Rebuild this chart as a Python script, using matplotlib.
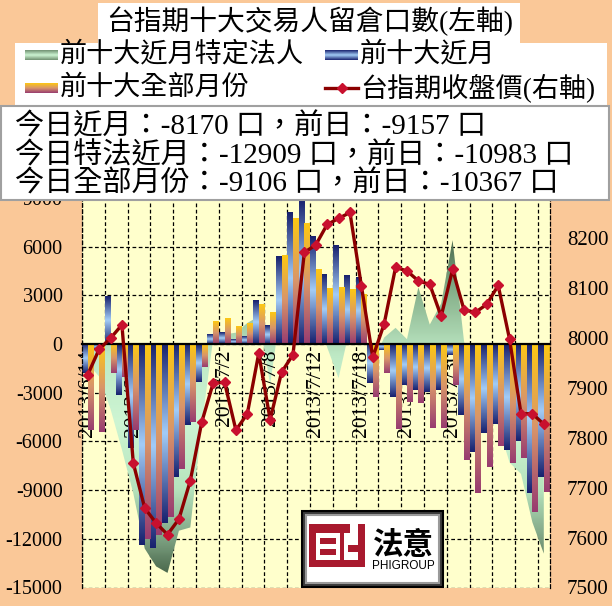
import numpy as np
import matplotlib
matplotlib.use('Agg')
import matplotlib.pyplot as plt
from matplotlib.colors import LinearSegmentedColormap
from matplotlib.patches import Rectangle

plt.rcParams['font.family'] = ['Liberation Serif', 'Noto Sans CJK TC']
plt.rcParams['axes.unicode_minus'] = False

# 交易日 (2013/6/14 ~ 2013/8/9)
dates = ['2013/6/14', '2013/6/17', '2013/6/18', '2013/6/19', '2013/6/20', '2013/6/21',
         '2013/6/24', '2013/6/25', '2013/6/26', '2013/6/27', '2013/6/28', '2013/7/1',
         '2013/7/2', '2013/7/3', '2013/7/4', '2013/7/5', '2013/7/8', '2013/7/9',
         '2013/7/10', '2013/7/11', '2013/7/12', '2013/7/15', '2013/7/16', '2013/7/17',
         '2013/7/18', '2013/7/19', '2013/7/22', '2013/7/23', '2013/7/24', '2013/7/25',
         '2013/7/26', '2013/7/29', '2013/7/30', '2013/7/31', '2013/8/1', '2013/8/2',
         '2013/8/5', '2013/8/6', '2013/8/7', '2013/8/8', '2013/8/9']

# 前十大近月特定法人 (面積)
specific = [-1200, -2000, -4000, -6500, -9200, -12600, -13700, -14100, -11500, -11300,
            -5000, 300, 600, 700, 1300, 1700, -2500, 2500, 5000, 6000,
            3000, -200, -2100, 1000, 1500, -1200, 400, 1000, 300, 3500,
            1200, 2500, 6400, 200, -3500, -4500, -5000, -7300, -8000, -10983,
            -12909]
# 前十大近月
near_month = [-1800, -300, 2900, -3140, -6430, -12380, -12580, -11030, -8200, -5000,
              -2320, 600, 700, 300, 450, 2650, 1110, 5380, 8130, 8900,
              6650, 4310, 6040, 4250, 4100, -2420, -370, -3240, -2500, -2800,
              -2940, -2830, -650, -4400, -6630, -5460, -4900, -6530, -5975, -9157,
              -8170]
# 前十大全部月份
all_month = [-5300, -5400, -1800, -2000, -5300, -12000, -11760, -10640, -7700, -4800,
             -1400, 1400, 1600, 1100, 1270, 2460, 1950, 5480, 7760, 7430,
             4600, 3390, 3470, 3330, 3080, -3240, -1770, -5230, -3550, -3610,
             -5150, -5150, -2500, -7130, -9150, -7550, -6300, -7310, -7040, -10367,
             -9106]
# 台指期收盤價
close = [7926, 7977, 7999, 8026, 7749, 7659, 7629, 7606, 7637, 7714,
         7831, 7909, 7911, 7815, 7848, 7969, 7836, 7931, 7966, 8171,
         8186, 8227, 8239, 8251, 8104, 7961, 8028, 8141, 8134, 8114,
         8107, 8043, 8137, 8056, 8051, 8067, 8105, 7997, 7848, 7848,
         7827]

label_step = 4

bg = '#FAC898'
green_cm = LinearSegmentedColormap.from_list('g', [
    (0.0, '#4e6e50'), (0.15, '#86b08a'), (0.35, '#bfeac6'), (0.55, '#cdf5d3'),
    (0.75, '#b6e4bd'), (0.9, '#7ea383'), (1.0, '#4d6b4f')])
blue_cm = LinearSegmentedColormap.from_list('b', ['#18216e', '#a3cdf7', '#18216e'])
gold_cm = LinearSegmentedColormap.from_list('o', ['#fdc814', '#d8956a', '#983c70'])
legend_green = LinearSegmentedColormap.from_list('lg', ['#6f8f70', '#cdf5d3', '#6f8f70'])


def grad(cmap, n=120):
    return cmap(np.linspace(0, 1, n))[:, None, :]


fig = plt.figure(figsize=(6.12, 6.06), dpi=100)
fig.patch.set_facecolor(bg)
ax = fig.add_axes([82 / 612, 1 - 587.5 / 606, 467.5 / 612, 389.5 / 606])
ax.set_facecolor('#FFFFCC')

x = np.arange(len(dates))

# 面積 (漸層, 以多邊形裁切)
area = ax.fill_between(x, 0, specific, facecolor='none', edgecolor='none')
im = ax.imshow(grad(green_cm), extent=(x[0], x[-1], min(specific), max(specific)),
               origin='upper', aspect='auto', interpolation='bilinear', zorder=1)
im.set_clip_path(area.get_paths()[0], ax.transData)

# 柱狀 (每根漸層)
b1 = ax.bar(x - 0.25, near_month, width=0.5, color='none', zorder=2)
b2 = ax.bar(x + 0.25, all_month, width=0.5, color='none', zorder=2)
for bars, cm in [(b1, blue_cm), (b2, gold_cm)]:
    img = grad(cm)
    for p in bars:
        x0, y0, w, h = p.get_x(), p.get_y(), p.get_width(), p.get_height()
        ax.imshow(img, extent=(x0, x0 + w, min(y0, y0 + h), max(y0, y0 + h)),
                  origin='upper', aspect='auto', interpolation='bilinear', zorder=2)

ax.set_xlim(-0.5, len(dates) - 0.5)
ax.set_ylim(-15000, 9000)
yticks = list(range(-15000, 9001, 3000))
ax.set_yticks(yticks)
ax.set_xticks(x[::label_step])
ax.set_xticklabels(dates[::label_step])

# 格線 (在資料後方)
dash = (0, (3, 2))
for yv in yticks:
    ax.axhline(yv, color='black', linestyle=dash, lw=0.9, zorder=0.5)
for xv in np.arange(-0.5, len(dates), 2):
    ax.axvline(xv, color='black', linestyle=dash, lw=0.9, zorder=0.5)

ax.tick_params(axis='x', which='both', length=0, pad=4, labelrotation=90, labelsize=15.5)
ax.tick_params(axis='y', length=0, pad=14, labelsize=14.5)
ax.spines['bottom'].set_position(('data', 0))
ax.spines['bottom'].set_linewidth(1.6)
for s in ['left', 'right', 'top']:
    ax.spines[s].set_linestyle(dash)
    ax.spines[s].set_linewidth(0.9)

# 收盤價 (右軸)
ax2 = ax.twinx()
ax2.plot(x, close, color='#8B0000', lw=2.4, marker='D', ms=5.5,
         mfc='#C8102E', mec='#C8102E', zorder=5)
ax2.set_ylim(7500, 8280)
ax2.set_yticks(range(7500, 8201, 100))
ax2.tick_params(axis='y', length=0, pad=12.5, labelsize=15)
for s in ax2.spines.values():
    s.set_visible(False)

# 標題, 圖例, 文字框, 標誌
ov = fig.add_axes([0, 0, 1, 1])
ov.set_zorder(5)
ov.patch.set_visible(False)
ov.axis('off')

ov.add_patch(Rectangle((98, 3), 422, 40, fc='white', ec='none', zorder=1))
ov.text(310, 21, '台指期十大交易人留倉口數(左軸)', ha='center', va='center', fontsize=20)

ov.add_patch(Rectangle((15, 43), 592, 62, fc='white', ec='none', zorder=1))
legend_items = [
    (25, 55, legend_green, '前十大近月特定法人'),
    (325, 55, blue_cm, '前十大近月'),
    (25, 88, gold_cm, '前十大全部月份'),
]
for lx, ly, cm, txt in legend_items:
    ov.imshow(grad(cm), extent=(lx, lx + 33, ly + 5, ly - 5), origin='upper',
              aspect='auto', interpolation='bilinear', zorder=2)
    ov.text(lx + 35, ly, txt, va='center', fontsize=19.5)
ov.plot([325, 358], [88, 88], color='#8B0000', lw=2.4, zorder=2)
ov.plot([341.5], [88], marker='D', ms=5.5, color='#C8102E', zorder=3)
ov.text(360, 88, '台指期收盤價(右軸)', va='center', fontsize=19.5)

ov.add_patch(Rectangle((1, 106), 608, 94, fc='white', ec='#A0A0A0', lw=1.5, zorder=1))
lines = [f'今日近月：{near_month[-1]} 口，前日：{near_month[-2]} 口',
         f'今日特法近月：{specific[-1]} 口，前日：{specific[-2]} 口',
         f'今日全部月份：{all_month[-1]} 口，前日：{all_month[-2]} 口']
for k, t in enumerate(lines):
    ov.text(15, 127 + k * 28.5, t, va='center', fontsize=21)

# 標誌
ov.add_patch(Rectangle((302, 511), 141, 76, fc='#3a3a3a', ec='black', lw=1.5, zorder=1))
ov.add_patch(Rectangle((306, 515), 133, 68, fc='white', ec='#9a9a9a', lw=1.5, zorder=1))
red = '#A8192E'
logo_parts = [((309, 524), 56, 43, red), ((316, 533), 24, 27, 'white'),
              ((320, 538), 16, 6, red), ((320, 549), 16, 6, red),
              ((344, 533), 14, 27, 'white'), ((350, 524), 8, 12, 'white'),
              ((348, 545), 10, 7, red)]
for xy, w, h, c in logo_parts:
    ov.add_patch(Rectangle(xy, w, h, fc=c, ec='none', zorder=2))
ov.text(403, 545, '法意', ha='center', va='center', fontsize=22, fontweight='bold',
        family='Noto Sans CJK TC')
ov.text(403, 566, 'PHIGROUP', ha='center', va='center', fontsize=8.5,
        family='Liberation Sans')

ov.set_xlim(0, 612)
ov.set_ylim(606, 0)

fig.savefig('out.png', dpi=100, facecolor=bg)
